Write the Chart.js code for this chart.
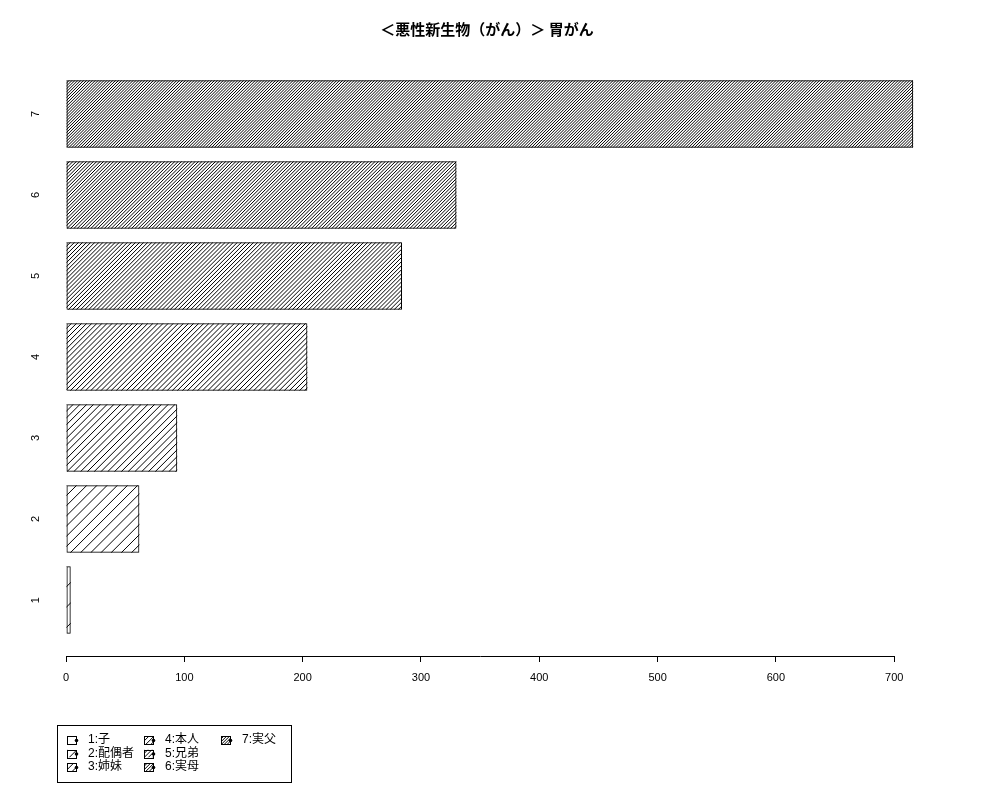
<!DOCTYPE html>
<html><head><meta charset="utf-8">
<script src="https://cdn.jsdelivr.net/npm/chart.js@4"></script>
<style>html,body{margin:0;padding:0;background:#fff}#wrap{width:1000px;height:800px}</style>
</head><body><div id="wrap"><canvas id="c" width="1000" height="800"></canvas></div>
<script>
// ---- data ----
const TITLE = '＜悪性新生物（がん）＞ 胃がん';
const categories = ['1', '2', '3', '4', '5', '6', '7'];
const values = [4, 62, 94, 204, 284, 330, 716];
const legendLabels = ['1:子', '2:配偶者', '3:姉妹', '4:本人', '5:兄弟', '6:実母', '7:実父'];
const xTicks = [0, 100, 200, 300, 400, 500, 600, 700];
// hatch densities (lines per inch, R style)
const hatchDensity = [5, 10, 15, 20, 25, 30, 35];

// ---- styles / layout ----
const FONT = "'Liberation Sans', 'Noto Sans CJK JP', sans-serif";
const TITLE_FONT = "bold 15px 'Noto Sans CJK JP', sans-serif";
const TITLE_X = 487, TITLE_Y = 29;
const LEG = {x: 57, y: 725, w: 234, h: 57, col0: 67, colStep: 77, row0: 740, rowStep: 13.5, textOff: 21};

function drawHatch(ctx, x, y, w, h, spacing) {
  ctx.save();
  ctx.beginPath();
  ctx.rect(x, y, w, h);
  ctx.clip();
  ctx.beginPath();
  ctx.strokeStyle = '#000';
  ctx.lineWidth = 1;
  for (let k = x - h; k < x + w + spacing; k += spacing) {
    ctx.moveTo(k, y + h);
    ctx.lineTo(k + h, y);
  }
  ctx.stroke();
  ctx.restore();
}

const hatchPlugin = {
  id: 'hatch',
  beforeDatasetsDraw(chart) {
    const meta = chart.getDatasetMeta(0);
    const ctx = chart.ctx;
    meta.data.forEach((el, i) => {
      const p = el.getProps(['x', 'y', 'base', 'height'], true);
      const l = Math.min(p.x, p.base), r = Math.max(p.x, p.base);
      const t = p.y - p.height / 2, b = p.y + p.height / 2;
      drawHatch(ctx, l, t, r - l, b - t, 72 * Math.SQRT2 / hatchDensity[i]);
    });
  }
};

const decorPlugin = {
  id: 'decor',
  afterDraw(chart) {
    const ctx = chart.ctx;
    const xs = chart.scales.x;
    ctx.save();
    ctx.strokeStyle = '#000';
    ctx.lineWidth = 1;
    const ay = Math.round(xs.top) + 0.5;
    ctx.beginPath();
    ctx.moveTo(Math.round(xs.getPixelForValue(xTicks[0])) + 0.5, ay);
    ctx.lineTo(Math.round(xs.getPixelForValue(xTicks[xTicks.length - 1])) + 0.5, ay);
    ctx.stroke();
    // title
    ctx.fillStyle = '#000';
    ctx.font = TITLE_FONT;
    ctx.textAlign = 'center';
    ctx.textBaseline = 'middle';
    ctx.fillText(TITLE, TITLE_X, TITLE_Y);
    // legend
    ctx.strokeRect(LEG.x + 0.5, LEG.y + 0.5, LEG.w, LEG.h);
    ctx.font = '12px ' + FONT;
    ctx.textAlign = 'left';
    legendLabels.forEach((lab, i) => {
      const c = Math.floor(i / 3), r = i % 3;
      const ix = LEG.col0 + LEG.colStep * c;
      const cy = LEG.row0 + LEG.rowStep * r;
      drawHatch(ctx, ix, cy - 4, 9, 8, 72 * Math.SQRT2 / hatchDensity[i]);
      ctx.strokeRect(ix + 0.5, Math.round(cy - 4) + 0.5, 9, 8);
      ctx.beginPath();
      ctx.arc(ix + 9.5, cy + 0.5, 1.8, 0, Math.PI * 2);
      ctx.fill();
      ctx.fillText(lab, ix + LEG.textOff, cy);
    });
    ctx.restore();
  }
};

new Chart(document.getElementById('c'), {
  type: 'bar',
  data: {
    datasets: [{
      data: categories.map((c, i) => ({x: values[i], y: i + 1})),
      backgroundColor: 'rgba(0,0,0,0)',
      borderColor: '#000',
      borderWidth: 1,
      borderSkipped: false,
      barPercentage: 1 / 1.2,
      categoryPercentage: 1
    }]
  },
  options: {
    indexAxis: 'y',
    responsive: false,
    devicePixelRatio: 1,
    animation: false,
    layout: {padding: {top: 58, left: 0, right: 53, bottom: 0}},
    plugins: {legend: {display: false}, title: {display: false}, tooltip: {enabled: false}},
    scales: {
      x: {
        type: 'linear', position: 'bottom', min: -17.75, max: 744.6, bounds: 'data', offset: false,
        afterBuildTicks: s => { s.ticks = xTicks.map(v => ({value: v})); },
        afterFit: s => { s.height = 144; },
        grid: {display: true, drawOnChartArea: false, drawTicks: true, tickLength: 6, color: '#000', lineWidth: 1, offset: false},
        border: {display: false},
        ticks: {autoSkip: false, maxRotation: 0, padding: 9, color: '#000', font: {size: 11, family: FONT},
                callback: v => String(v)}
      },
      y: {
        type: 'linear', position: 'left', min: 0.31, max: 7.69, bounds: 'data', offset: false,
        afterBuildTicks: s => { s.ticks = categories.map((c, i) => ({value: i + 1})); },
        afterFit: s => { s.width = 45; },
        grid: {display: false, drawTicks: false, offset: false},
        border: {display: false},
        ticks: {autoSkip: false, minRotation: 90, maxRotation: 90, crossAlign: 'center', padding: 6,
                color: '#000', font: {size: 11, family: FONT},
                callback: v => categories[v - 1]}
      }
    }
  },
  plugins: [hatchPlugin, decorPlugin]
});
</script>
</body></html>
